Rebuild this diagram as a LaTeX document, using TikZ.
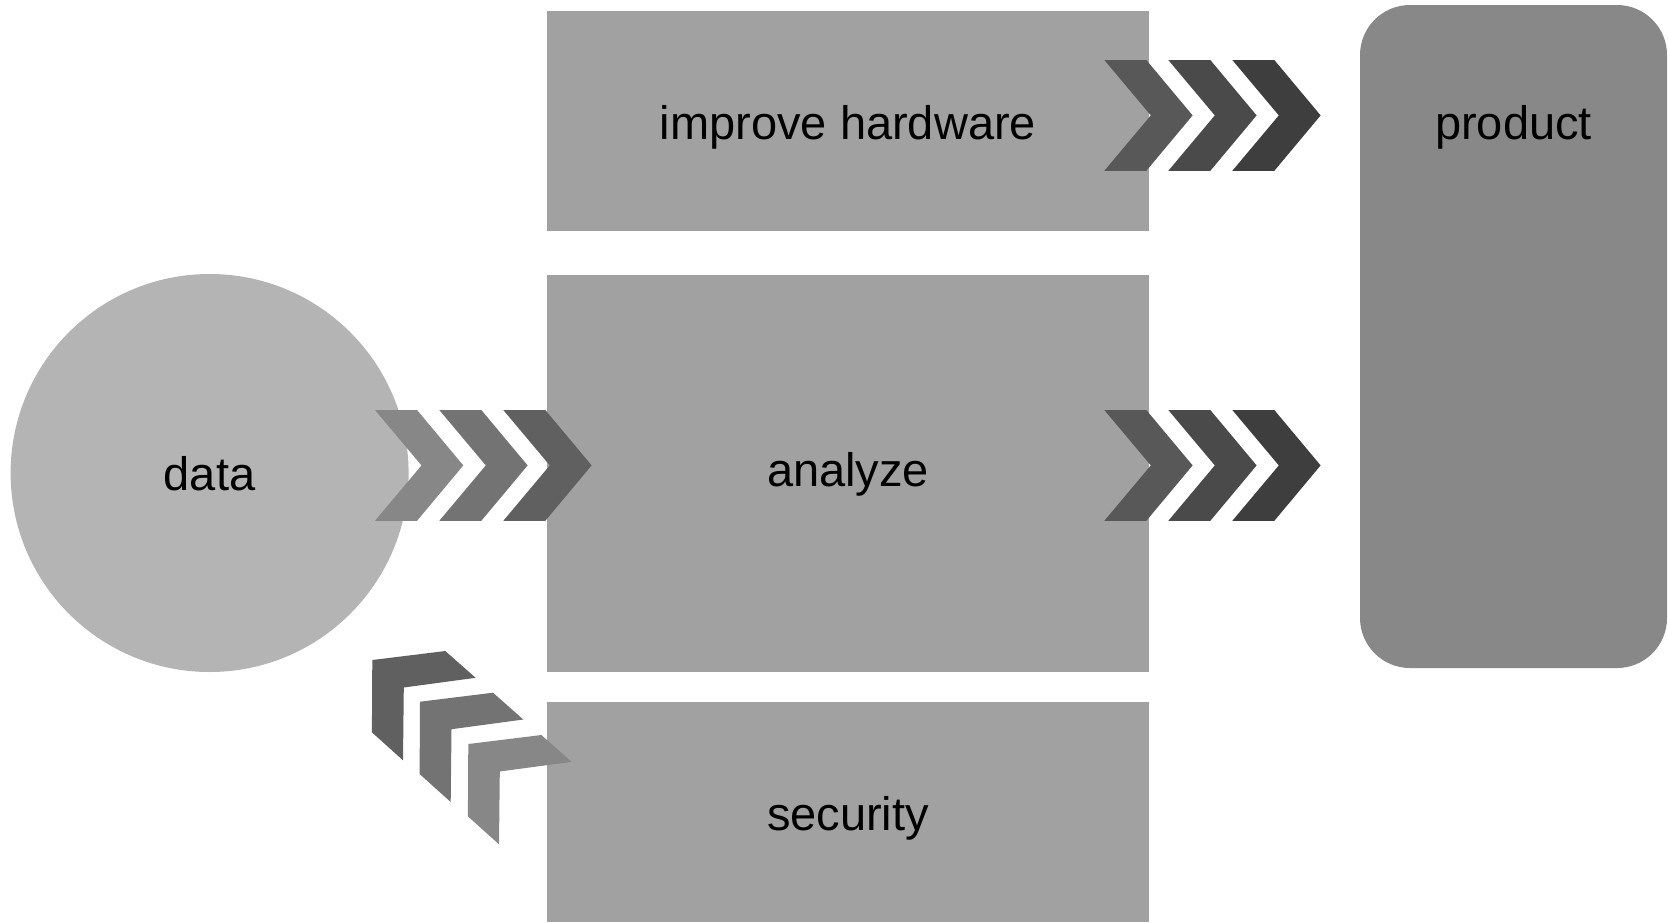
\documentclass[tikz,border=0pt]{standalone}
\usepackage{fontspec}
\setmainfont{Liberation Sans}
\definecolor{boxgray}{HTML}{A1A1A1}
\definecolor{circgray}{HTML}{B4B4B4}
\definecolor{prodgray}{HTML}{888888}
\definecolor{chA}{HTML}{878787}
\definecolor{chB}{HTML}{737373}
\definecolor{chC}{HTML}{606060}
\definecolor{chD}{HTML}{585858}
\definecolor{chE}{HTML}{4A4A4A}
\definecolor{chF}{HTML}{3E3E3E}
\newcommand\rchev[3]{\fill[#3] (#1,#2) -- ++(42,0) -- ++(46.3,55.4) -- ++(-46.3,55.4) -- ++(-42,0) -- ++(46.5,-55.4) -- cycle;}
\newcommand\uchev[3]{\fill[#3] (#1,#2) -- ++(73,-9) -- ++(30.3,26.8) -- ++(-71.8,9.7) -- ++(-0.8,72.8) -- ++(-31.1,-28) -- cycle;}
\begin{document}
\begin{tikzpicture}[x=0.5pt,y=-0.5pt,
  lbl/.style={font=\fontsize{23.5}{28}\selectfont, text=black, inner sep=0pt, text depth=0pt},
  boxnode/.style={fill=boxgray, inner sep=0pt, minimum width=301pt, lbl},
]
\useasboundingbox (0,0) rectangle (1668,922);
\node[boxnode, minimum height=110pt, text height=18.3pt] (hw) at (848,121) {improve hardware};
\node[boxnode, minimum height=198.75pt, text height=12.8pt] (an) at (848,473.25) {analyze};
\node[boxnode, minimum height=110pt, text height=18pt] (sec) at (848,812) {security};
\node[circle, fill=circgray, minimum size=199pt, lbl, text height=17pt] (data) at (209.6,473) {data};
\node[fill=prodgray, rounded corners=25pt, minimum width=153.5pt, minimum height=331.5pt, inner sep=0pt,
  label={[lbl,yshift=-67.5pt]north:product}] (prod) at (1513.5,336.5) {};
% data -> analyze
\rchev{375}{410}{chA}
\rchev{439.3}{410}{chB}
\rchev{503.3}{410}{chC}
% hardware -> product
\rchev{1104.3}{60}{chD}
\rchev{1168.3}{60}{chE}
\rchev{1232.3}{60}{chF}
% analyze -> product
\rchev{1104.3}{410}{chD}
\rchev{1168.3}{410}{chE}
\rchev{1232.3}{410}{chF}
% security -> data
\uchev{372.3}{660}{chC}
\uchev{420}{701.7}{chB}
\uchev{468.3}{744}{chA}
\end{tikzpicture}
\end{document}
